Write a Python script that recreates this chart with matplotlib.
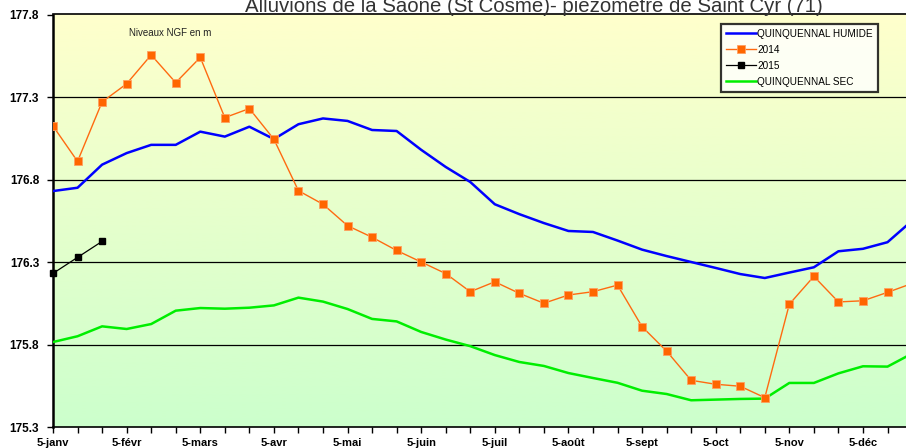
import matplotlib.pyplot as plt
import numpy as np

plt.rcParams['font.family'] = ['Liberation Sans', 'DejaVu Sans']

# dates (3 per month: 5, 15, 25)
mois = ["janv", "févr", "mars", "avr", "mai", "juin",
        "juil", "août", "sept", "oct", "nov", "déc"]
dates = [f"{d}-{m}" for m in mois for d in (5, 15, 25)]
tick_labels = [f"5-{m}" for m in mois]

humide = [176.73, 176.75, 176.89, 176.96, 177.01, 177.01, 177.09, 177.06, 177.12,
          177.045, 177.135, 177.17, 177.155, 177.10, 177.094, 176.98, 176.876, 176.785,
          176.65, 176.59, 176.536, 176.488, 176.482, 176.43, 176.375, 176.336, 176.30,
          176.264, 176.227, 176.203, 176.236, 176.268, 176.365, 176.38, 176.42, 176.55]
y2014 = [177.124, 176.91, 177.27, 177.38, 177.555, 177.387, 177.54, 177.175, 177.23,
         177.044, 176.732, 176.65, 176.52, 176.45, 176.37, 176.30, 176.23, 176.12,
         176.18, 176.11, 176.05, 176.10, 176.12, 176.16, 175.908, 175.76, 175.583,
         175.559, 175.547, 175.478, 176.044, 176.213, 176.058, 176.065, 176.116, 176.17]
y2015 = [176.231, 176.328, 176.425]
sec = [175.815, 175.85, 175.91, 175.894, 175.924, 176.005, 176.021, 176.017, 176.023,
       176.037, 176.084, 176.06, 176.015, 175.955, 175.94, 175.876, 175.83, 175.79,
       175.736, 175.694, 175.67, 175.627, 175.597, 175.568, 175.52, 175.50, 175.462,
       175.466, 175.47, 175.472, 175.567, 175.567, 175.625, 175.668, 175.666, 175.745]

yticks = [175.3, 175.8, 176.3, 176.8, 177.3, 177.8]

fig = plt.figure(figsize=(9.06, 4.48), dpi=100)
ax = fig.add_axes([53 / 906, 1 - 427 / 448, 1 - 53 / 906, (427 - 14.5) / 448])

xmax = 34 + 18.5 / 24.545
ax.set_xlim(0, xmax)
ax.set_ylim(175.3, 177.8)

# gradient background yellow -> green
grad = np.linspace(0, 1, 256).reshape(-1, 1)
top = np.array([1.0, 1.0, 0.8])
bot = np.array([0.8, 1.0, 0.8])
img = top * (1 - grad[..., None]) + bot * grad[..., None]
ax.imshow(img, extent=[0, xmax, 175.3, 177.8], aspect='auto', zorder=0,
          origin='upper', interpolation='bilinear')

for v in yticks[1:-1]:
    ax.axhline(v, color='black', lw=0.9, zorder=1)

x = np.arange(len(dates))
ax.plot(x, humide, color='#0000ff', lw=1.8, label='QUINQUENNAL HUMIDE', zorder=3)
ax.plot(x, y2014, color='#ff6a10', lw=1.0, marker='s', ms=5.5,
        mfc='#ff6600', mec='#ffa060', mew=0.6, label='2014', zorder=4)
ax.plot(np.arange(len(y2015)), y2015, color='black', lw=0.9, marker='s', ms=5,
        label='2015', zorder=5, clip_on=False)
ax.plot(x, sec, color='#00ee00', lw=1.8, label='QUINQUENNAL SEC', zorder=3)

ax.set_xticks(np.arange(0, 36, 3))
ax.set_xticklabels(tick_labels, fontsize=8, fontweight='bold')
ax.set_xticks(np.arange(0, 35), minor=True)
ax.tick_params(axis='x', which='both', direction='out', length=4, width=1,
               color='black', pad=4)
ax.set_yticks(yticks)
ax.set_yticklabels([f"{v:.1f}" for v in yticks], fontsize=8.5, fontweight='bold')
ax.tick_params(axis='y', direction='out', length=4, width=1, pad=6)

for s in ['left', 'bottom', 'top']:
    ax.spines[s].set_color('black')
ax.spines['left'].set_linewidth(1.8)
ax.spines['bottom'].set_linewidth(1.2)
ax.spines['top'].set_linewidth(1.2)
ax.spines['right'].set_visible(False)

ax.text(76 / 853, 0.955, "Niveaux NGF en m", transform=ax.transAxes,
        fontsize=7, color='#222222', va='center')

leg = ax.legend(loc='upper left', bbox_to_anchor=((721 - 53) / 853, 1 - 9.5 / 412.5),
                fontsize=7.2, frameon=True, fancybox=False, borderpad=0.5,
                labelspacing=0.6, handlelength=3.0, handletextpad=0.1,
                borderaxespad=0)
leg.get_frame().set_edgecolor('black')
leg.get_frame().set_linewidth(1.6)

fig.text(0.589, 1 - 12.5 / 448,
         "Alluvions de la Saône (St Cosme)- piézomètre de Saint Cyr (71)",
         ha='center', va='baseline', fontsize=14.7, color='#333333')

fig.savefig('out.png', dpi=100)
